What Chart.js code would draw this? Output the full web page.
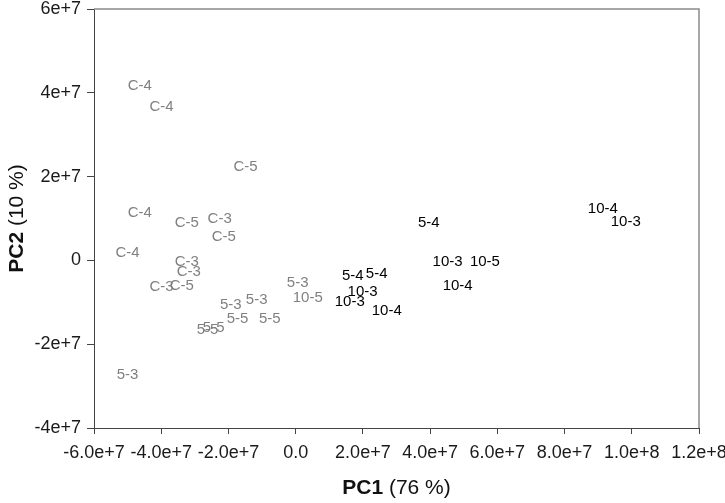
<!DOCTYPE html>
<html>
<head>
<meta charset="utf-8">
<script src="https://cdn.jsdelivr.net/npm/chart.js@4.4.0/dist/chart.umd.min.js"></script>
<style>
  html, body { margin: 0; padding: 0; background: #ffffff; }
  #wrap { width: 725px; height: 503px; position: relative; }
</style>
</head>
<body>
<div id="wrap"><canvas id="c" width="725" height="503"></canvas></div>
<script>
// ---- data ----
const grayLabels = ["C-4","C-4","C-5","C-4","C-5","C-3","C-5","C-4","C-3","C-3","C-3","C-5",
                    "5-3","5-3","5-5","5-5","5-5","5-5","5-3","5-3","10-5"];
const grayX = [-4.64e7,-3.99e7,-1.49e7,-4.64e7,-3.24e7,-2.26e7,-2.14e7,-5.0e7,-3.24e7,-3.18e7,-3.99e7,-3.39e7,
               -1.93e7,-1.16e7,-1.73e7,-0.77e7,-2.62e7,-2.44e7,-5.0e7,0.06e7,0.36e7];
const grayY = [4.16e7,3.66e7,2.23e7,1.13e7,0.89e7,0.99e7,0.56e7,0.18e7,-0.04e7,-0.27e7,-0.63e7,-0.61e7,
               -1.06e7,-0.94e7,-1.40e7,-1.40e7,-1.66e7,-1.62e7,-2.73e7,-0.54e7,-0.90e7];

const blackLabels = ["5-4","5-4","5-4","10-3","10-3","10-4","10-3","10-5","10-4","10-4","10-3"];
const blackX = [3.96e7,1.70e7,2.41e7,1.99e7,1.61e7,2.71e7,4.52e7,5.63e7,4.82e7,9.14e7,9.82e7];
const blackY = [0.90e7,-0.37e7,-0.32e7,-0.75e7,-0.99e7,-1.21e7,-0.04e7,-0.04e7,-0.61e7,1.22e7,0.92e7];

const xTickValues = [-6e7,-4e7,-2e7,0,2e7,4e7,6e7,8e7,1e8,1.2e8];
const xTickLabels = ["-6.0e+7","-4.0e+7","-2.0e+7","0.0","2.0e+7","4.0e+7","6.0e+7","8.0e+7","1.0e+8","1.2e+8"];
const yTickValues = [-4e7,-2e7,0,2e7,4e7,6e7];
const yTickLabels = ["-4e+7","-2e+7","0","2e+7","4e+7","6e+7"];

const xTitleBold = "PC1", xTitleRest = " (76 %)";
const yTitleBold = "PC2", yTitleRest = " (10 %)";

const FONT = '"Liberation Sans", Arial, Helvetica, sans-serif';

function pts(xs, ys) { return xs.map((x, i) => ({ x: x, y: ys[i] })); }

const textLabelsPlugin = {
  id: 'textLabels',
  afterDatasetsDraw(chart) {
    const ctx = chart.ctx;
    ctx.save();
    ctx.font = '15px ' + FONT;
    ctx.textAlign = 'center';
    ctx.textBaseline = 'middle';
    chart.data.datasets.forEach((ds, di) => {
      const meta = chart.getDatasetMeta(di);
      ctx.fillStyle = ds.textColor;
      meta.data.forEach((el, i) => {
        ctx.fillText(ds.labels[i], el.x, el.y);
      });
    });
    ctx.restore();
  }
};

const framePlugin = {
  id: 'frame',
  afterDraw(chart) {
    const ctx = chart.ctx;
    const a = chart.chartArea;
    ctx.save();
    ctx.strokeStyle = '#8a8a8a';
    ctx.lineWidth = 1.5;
    ctx.beginPath();
    ctx.moveTo(a.left, a.top);
    ctx.lineTo(a.right, a.top);
    ctx.lineTo(a.right, a.bottom);
    ctx.stroke();

    function mixed(boldTxt, restTxt, size) {
      ctx.font = 'bold ' + size + 'px ' + FONT;
      const wb = ctx.measureText(boldTxt).width;
      ctx.font = size + 'px ' + FONT;
      const wr = ctx.measureText(restTxt).width;
      const start = -(wb + wr) / 2;
      ctx.textAlign = 'left';
      ctx.textBaseline = 'middle';
      ctx.fillStyle = '#111';
      ctx.font = 'bold ' + size + 'px ' + FONT;
      ctx.fillText(boldTxt, start, 0);
      ctx.font = size + 'px ' + FONT;
      ctx.fillText(restTxt, start + wb, 0);
    }
    ctx.save();
    ctx.translate((a.left + a.right) / 2, 488);
    mixed(xTitleBold, xTitleRest, 21);
    ctx.restore();
    ctx.save();
    ctx.translate(17, (a.top + a.bottom) / 2);
    ctx.rotate(-Math.PI / 2);
    mixed(yTitleBold, yTitleRest, 21);
    ctx.restore();
    ctx.restore();
  }
};

new Chart(document.getElementById('c'), {
  type: 'scatter',
  data: {
    datasets: [
      { data: pts(grayX, grayY), labels: grayLabels, textColor: '#808080', pointRadius: 0, pointHoverRadius: 0 },
      { data: pts(blackX, blackY), labels: blackLabels, textColor: '#000000', pointRadius: 0, pointHoverRadius: 0 }
    ]
  },
  options: {
    responsive: false,
    animation: false,
    devicePixelRatio: 1,
    layout: { padding: { top: 9, right: 26, left: 0, bottom: 0 } },
    plugins: { legend: { display: false }, tooltip: { enabled: false } },
    scales: {
      x: {
        type: 'linear',
        min: -6e7, max: 1.2e8,
        afterBuildTicks(scale) { scale.ticks = xTickValues.map(v => ({ value: v })); },
        afterFit(scale) { scale.height = 75; scale.paddingLeft = 0; scale.paddingRight = 0; },
        grid: { drawOnChartArea: false, drawTicks: true, tickLength: 6, color: '#444' },
        border: { display: true, color: '#444', width: 1 },
        ticks: {
          autoSkip: false, maxRotation: 0, padding: 8,
          color: '#1a1a1a',
          font: { family: FONT, size: 18 },
          callback(v, i) { return xTickLabels[i]; }
        }
      },
      y: {
        type: 'linear',
        min: -4e7, max: 6e7,
        afterBuildTicks(scale) { scale.ticks = yTickValues.map(v => ({ value: v })); },
        afterFit(scale) { scale.width = 94; scale.paddingTop = 0; scale.paddingBottom = 0; },
        grid: { drawOnChartArea: false, drawTicks: true, tickLength: 7, color: '#444' },
        border: { display: true, color: '#444', width: 1 },
        ticks: {
          autoSkip: false, padding: 6,
          color: '#1a1a1a',
          font: { family: FONT, size: 18 },
          callback(v, i) { return yTickLabels[i]; }
        }
      }
    }
  },
  plugins: [textLabelsPlugin, framePlugin]
});
</script>
</body>
</html>
